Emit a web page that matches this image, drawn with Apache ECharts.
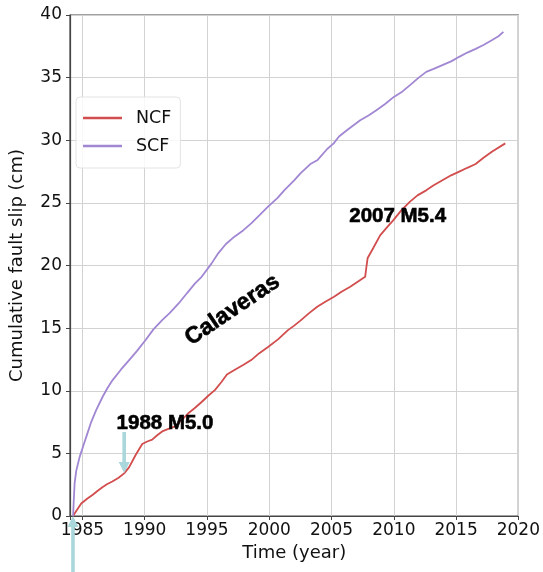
<!DOCTYPE html>
<html>
<head>
<meta charset="utf-8">
<script src="https://cdn.jsdelivr.net/npm/echarts@6/dist/echarts.min.js"></script>
<style>
  html, body { margin: 0; padding: 0; background: #fff; }
  #main { width: 543px; height: 572px; }
</style>
</head>
<body>
<div id="main"></div>
<script>
// NCF: northern Calaveras fault cumulative slip (cm)
const ncfTime = [1984.25, 1984.37, 1984.9, 1985.4, 1985.83, 1986.2, 1986.6, 1987.0, 1987.4, 1987.9,
  1988.35, 1988.75, 1989.27, 1989.8, 1990.2, 1990.6, 1991.0, 1991.4, 1991.9, 1992.45,
  1993.0, 1993.5, 1994.0, 1994.57, 1995.1, 1995.63, 1996.16, 1996.6, 1997.2, 1997.9,
  1998.55, 1999.2, 1999.9, 2000.7, 2001.5, 2002.0, 2002.5, 2003.2, 2003.85, 2004.5,
  2005.2, 2005.8, 2006.5, 2007.1, 2007.7, 2007.8, 2007.9, 2008.35, 2008.9, 2009.5,
  2009.95, 2010.6, 2011.3, 2011.9, 2012.6, 2013.2, 2013.9, 2014.6, 2015.25, 2015.9,
  2016.57, 2017.2, 2017.9, 2018.95]
const ncfSlip = [0, 0.2, 1.0, 1.4, 1.7, 2.0, 2.3, 2.55, 2.75, 3.05,
  3.4, 3.9, 4.87, 5.75, 5.95, 6.1, 6.45, 6.75, 6.95, 7.15,
  7.7, 8.2, 8.6, 9.1, 9.6, 10.05, 10.7, 11.3, 11.65, 12.05,
  12.45, 13.0, 13.5, 14.1, 14.84, 15.2, 15.6, 16.2, 16.7, 17.1,
  17.5, 17.9, 18.3, 18.7, 19.1, 19.9, 20.6, 21.4, 22.4, 23.1,
  23.6, 24.4, 25.1, 25.6, 26.0, 26.4, 26.8, 27.2, 27.5, 27.8,
  28.1, 28.6, 29.1, 29.75]

// SCF: southern Calaveras fault cumulative slip (cm)
const scfTime = [1984.25, 1984.3, 1984.37, 1984.5, 1984.77, 1985.3, 1985.7, 1986.1, 1986.62, 1987.0,
  1987.42, 1988.1, 1988.75, 1989.4, 1990.07, 1990.7, 1991.4, 1992.0, 1992.72, 1993.4,
  1994.04, 1994.57, 1995.37, 1995.9, 1996.5, 1997.2, 1997.9, 1998.55, 1999.2, 1999.9,
  2000.67, 2001.2, 2002.0, 2002.5, 2003.3, 2003.85, 2004.65, 2005.17, 2005.6, 2006.23,
  2007.3, 2008.0, 2008.6, 2009.3, 2010.0, 2010.7, 2011.3, 2012.0, 2012.6, 2013.2,
  2013.9, 2014.6, 2015.25, 2015.9, 2016.57, 2017.2, 2017.9, 2018.4, 2018.8]
const scfSlip = [0, 1.2, 2.6, 3.6, 4.7, 6.3, 7.5, 8.46, 9.52, 10.2,
  10.85, 11.7, 12.45, 13.2, 14.05, 14.9, 15.64, 16.2, 16.97, 17.8,
  18.57, 19.1, 20.17, 20.97, 21.7, 22.3, 22.8, 23.36, 24.0, 24.7,
  25.4, 26.0, 26.8, 27.35, 28.1, 28.4, 29.3, 29.75, 30.3, 30.8,
  31.6, 32.0, 32.4, 32.9, 33.46, 33.9, 34.4, 35.0, 35.46, 35.7,
  36.0, 36.3, 36.66, 37.0, 37.3, 37.6, 38.0, 38.3, 38.65]

// annotations (data coords)
const labels = [
  { text: '1988 M5.0', at: [1991.63, 7.38], rot: 0, size: 20.5 },
  { text: '2007 M5.4', at: [2010.31, 23.94], rot: 0, size: 20.5 },
  { text: 'Calaveras', at: [1997.04, 16.44], rot: 34, size: 23 }
]
const arrows = [
  { from: [1988.35, 6.7], to: [1988.35, 3.43] },
  { from: [1984.24, -4.6], to: [1984.24, 0] }
]

const zip = (xs, ys) => xs.map((x, i) => [x, ys[i]])

const chart = echarts.init(document.getElementById('main'), null, { renderer: 'canvas' })
const tickFont = { fontFamily: 'DejaVu Sans', fontSize: 17, color: '#111' }
const gridLine = { show: true, lineStyle: { color: '#d2d2d2', width: 1 } }

chart.setOption({
  animation: false,
  backgroundColor: '#fff',
  grid: {
    left: 67, top: 15, right: 24, bottom: 56,
    show: true, borderColor: '#444', borderWidth: 1.2
  },
  legend: {
    left: 76, top: 97,
    orient: 'vertical',
    icon: 'rect',
    itemWidth: 39, itemHeight: 2.5,
    itemGap: 10,
    padding: [12, 9, 13, 7],
    borderColor: '#e3e3e3', borderWidth: 1, borderRadius: 4,
    backgroundColor: 'rgba(255,255,255,0.85)',
    textStyle: { fontFamily: 'DejaVu Sans', fontSize: 17.5, color: '#111', padding: [0, 0, 0, 9] },
    data: ['NCF', 'SCF']
  },
  xAxis: {
    type: 'value', min: 1984, max: 2020, splitNumber: 7,
    name: 'Time (year)', nameLocation: 'middle', nameGap: 28,
    nameTextStyle: { fontFamily: 'DejaVu Sans', fontSize: 18, color: '#111' },
    axisLine: { show: true, lineStyle: { color: '#444', width: 1.2 } },
    axisTick: { show: true, length: 4, lineStyle: { color: '#444' } },
    axisLabel: Object.assign({
      margin: 6,
      formatter: v => (v % 5 === 0 ? String(v) : '')
    }, tickFont),
    splitLine: gridLine
  },
  yAxis: {
    type: 'value', min: 0, max: 40, interval: 5,
    name: 'Cumulative fault slip (cm)', nameLocation: 'middle', nameGap: 44,
    nameTextStyle: { fontFamily: 'DejaVu Sans', fontSize: 18, color: '#111' },
    axisLine: { show: true, lineStyle: { color: '#444', width: 1.2 } },
    axisTick: { show: true, length: 4, lineStyle: { color: '#444' } },
    axisLabel: Object.assign({ margin: 8 }, tickFont),
    splitLine: gridLine
  },
  series: [
    {
      name: 'NCF', type: 'line', data: zip(ncfTime, ncfSlip),
      showSymbol: false, color: '#d24d4d',
      lineStyle: { width: 1.8 }
    },
    {
      name: 'SCF', type: 'line', data: zip(scfTime, scfSlip),
      showSymbol: false, color: '#a187d3',
      lineStyle: { width: 1.8 }
    }
  ]
})

// arrows + text annotations placed via axis scales
function arrowShape(a) {
  const p0 = chart.convertToPixel({ gridIndex: 0 }, a.from)
  const p1 = chart.convertToPixel({ gridIndex: 0 }, a.to)
  const dx = p1[0] - p0[0], dy = p1[1] - p0[1]
  const len = Math.sqrt(dx * dx + dy * dy)
  const ux = dx / len, uy = dy / len
  const nx = -uy, ny = ux
  const headLen = 11, headW = 5.5, shaftW = 1.8
  const bx = p1[0] - ux * headLen, by = p1[1] - uy * headLen
  return [
    [p0[0] + nx * shaftW, p0[1] + ny * shaftW],
    [bx + nx * shaftW, by + ny * shaftW],
    [bx + nx * headW, by + ny * headW],
    [p1[0], p1[1]],
    [bx - nx * headW, by - ny * headW],
    [bx - nx * shaftW, by - ny * shaftW],
    [p0[0] - nx * shaftW, p0[1] - ny * shaftW]
  ]
}

const graphics = []
arrows.forEach(a => {
  graphics.push({
    type: 'polygon', z: 100,
    shape: { points: arrowShape(a) },
    style: { fill: '#a9d7dc' }
  })
})
labels.forEach(l => {
  const p = chart.convertToPixel({ gridIndex: 0 }, l.at)
  graphics.push({
    type: 'text', z: 101,
    x: p[0], y: p[1],
    rotation: l.rot * Math.PI / 180,
    style: {
      text: l.text,
      fontFamily: 'Liberation Sans', fontWeight: 'bold', fontSize: l.size,
      fill: '#000', stroke: '#000', lineWidth: 0.6,
      align: 'center', verticalAlign: 'middle'
    }
  })
})
chart.setOption({ graphic: graphics })
</script>
</body>
</html>
